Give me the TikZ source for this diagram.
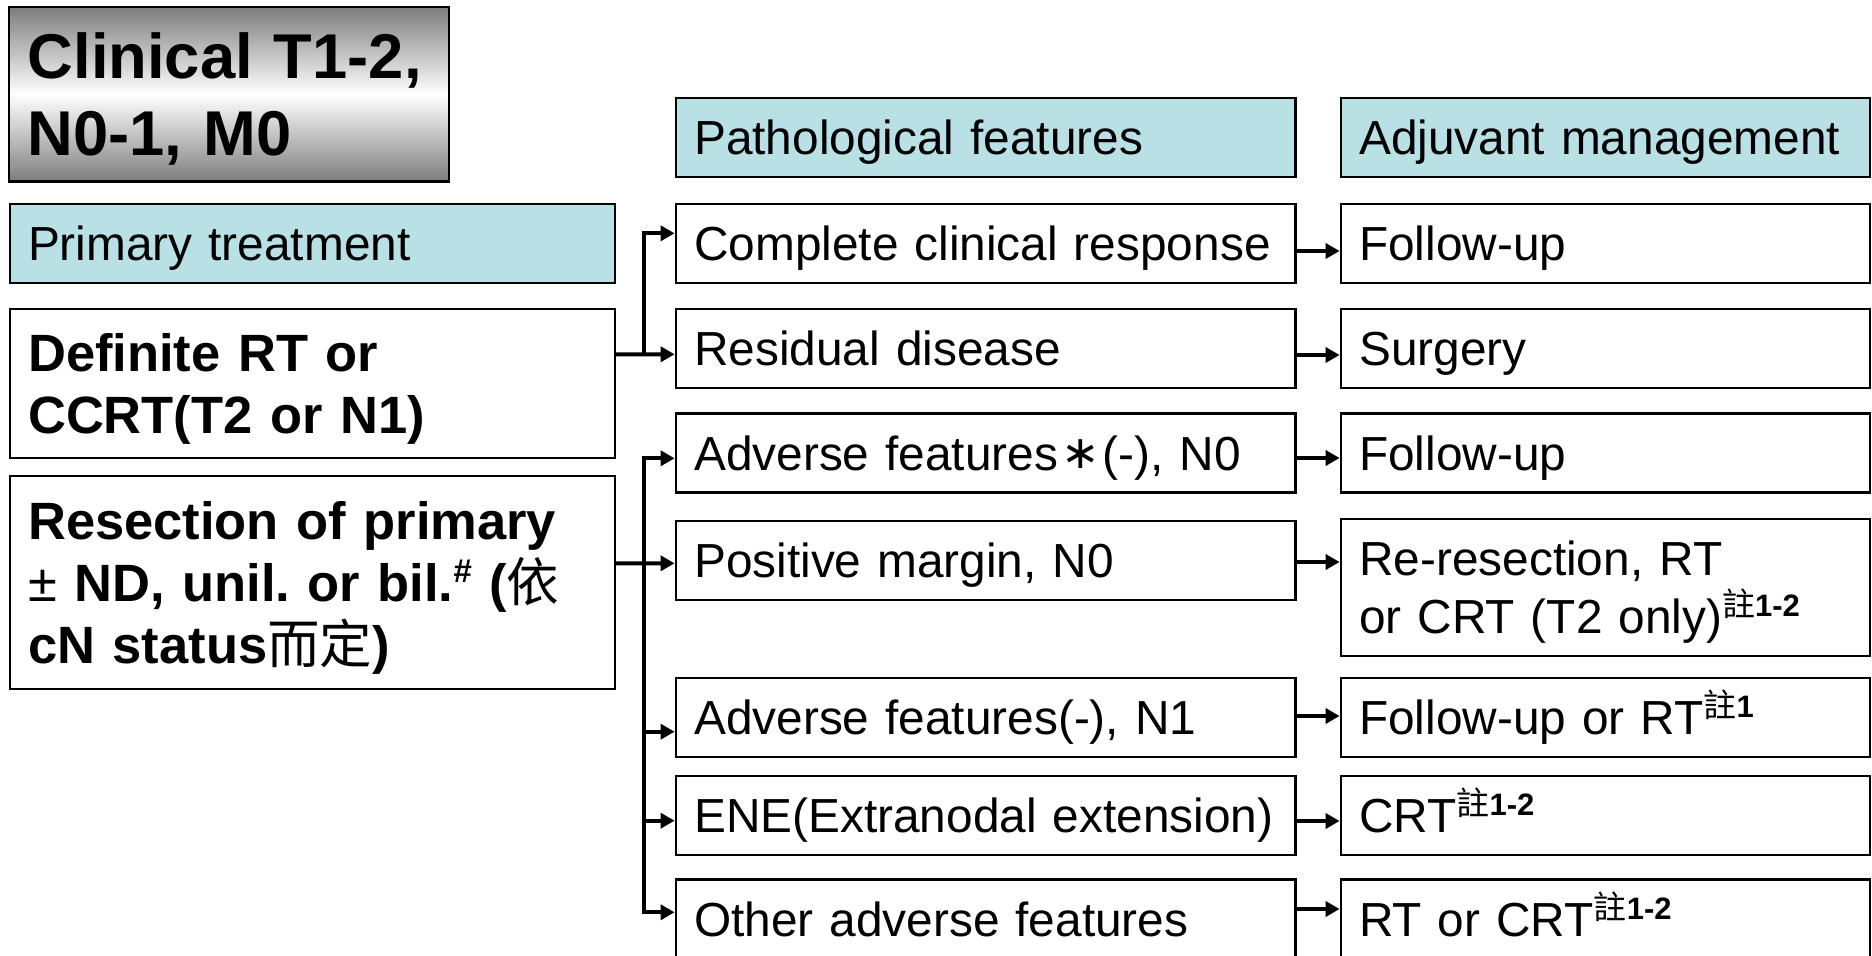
\documentclass[tikz,border=0pt]{standalone}
\usepackage{fontspec}
\setmainfont{Liberation Sans}
\newfontfamily\cjk{Noto Sans CJK TC}
\newfontfamily\djv{DejaVu Sans}
\usetikzlibrary{arrows.meta}
\definecolor{hdr}{RGB}{185,224,228}
\definecolor{shadegray}{RGB}{125,125,125}
\newcommand\zhu[1]{\raisebox{17pt}{{\fontsize{33}{33}\selectfont\cjk\mdseries 註}{\fontsize{31}{31}\selectfont\bfseries #1}}}
\newcommand\hashsup{\raisebox{19pt}{\fontsize{33}{33}\selectfont\bfseries\#}}
\newcommand\astmark{\hspace{3pt}\raisebox{2pt}{\fontsize{46}{46}\selectfont\djv\mdseries ∗}\hspace{3pt}}
\frenchspacing
\begin{document}
\begin{tikzpicture}[x=1pt,y=-1pt,
  box/.style={draw=black, line width=2.2pt, inner xsep=18pt, inner ysep=0pt, align=left, anchor=center, fill=white},
  reg/.style={font=\fontsize{47.8}{58.5}\selectfont\frenchspacing, text height=34.2pt, text depth=0pt},
  reg2/.style={font=\fontsize{47.8}{58.5}\selectfont\frenchspacing, text height=34.2pt, text depth=58.5pt},
  pcol/.style={minimum width=619.8pt, text width=582.8pt, minimum height=79pt},
  acol/.style={minimum width=529.3pt, text width=492.3pt, minimum height=79pt},
  lcol/.style={minimum width=605.4pt, text width=568.4pt},
  hdrbox/.style={fill=hdr},
  conn/.style={line width=4pt, draw=black},
  arr/.style={conn, -{Triangle[length=14pt,width=15pt]}}]
\fill[white] (0,0) rectangle (1872,956);
\useasboundingbox (0,0) rectangle (1872,956);

% Title box with gradient
\node[draw=black, line width=2.4pt, top color=shadegray, bottom color=shadegray, middle color=white,
  minimum width=439.5pt, minimum height=174.6pt, text width=402.5pt, align=left,
  inner xsep=18pt, inner ysep=0pt, font=\fontsize{63.3}{77.6}\selectfont\bfseries,
  text height=45.3pt, text depth=77.6pt] (clin) at (229,94.3) {Clinical T1-2,\\N0-1, M0};

% Left column
\node[box, hdrbox, lcol, reg, minimum height=79.4pt] (prim) at (312.3,243.5) {Primary treatment};
\node[box, lcol, minimum height=149.3pt, font=\fontsize{52.5}{62}\selectfont\bfseries\frenchspacing,
  text height=37.6pt, text depth=62pt] (def) at (312.3,383.65) {Definite RT or\\CCRT(T2 or N1)};
\node[box, lcol, minimum height=213.6pt, font=\fontsize{52.5}{62}\selectfont\bfseries\frenchspacing,
  text height=37.6pt, text depth=124pt] (res) at (312.3,582.5)
  {Resection of primary\\{\mdseries ±} ND, unil. or bil.\hashsup{} ({\cjk\mdseries 依}\\cN status{\cjk\mdseries 而定})};

% Headers
\node[box, hdrbox, pcol, reg, minimum height=78.8pt] (hp) at (985.6,137.3) {Pathological features};
\node[box, hdrbox, acol, reg, minimum height=78.8pt] (ha) at (1605.35,137.3) {Adjuvant management};

% Pathological features column
\node[box, pcol, reg] (p1) at (985.6,243.25) {Complete clinical response};
\node[box, pcol, reg] (p2) at (985.6,348.7) {Residual disease};
\node[box, pcol, reg] (p3) at (985.6,452.9) {Adverse features\astmark(-), N0};
\node[box, pcol, reg] (p4) at (985.6,560.15) {Positive margin, N0};
\node[box, pcol, reg] (p5) at (985.6,717.75) {Adverse features(-), N1};
\node[box, pcol, reg] (p6) at (985.6,815.15) {ENE(Extranodal extension)};
\node[box, pcol, reg] (p7) at (985.6,919) {Other adverse features};

% Adjuvant management column
\node[box, acol, reg] (a1) at (1605.35,243.25) {Follow-up};
\node[box, acol, reg] (a2) at (1605.35,348.7) {Surgery};
\node[box, acol, reg] (a3) at (1605.35,452.9) {Follow-up};
\node[box, acol, reg2, minimum height=136.4pt] (a4) at (1605.35,587.5) {Re-resection, RT\\or CRT (T2 only)\zhu{1-2}};
\node[box, acol, reg] (a5) at (1605.35,717.75) {Follow-up or RT\zhu{1}};
\node[box, acol, reg] (a6) at (1605.35,815.15) {CRT\zhu{1-2}};
\node[box, acol, reg] (a7) at (1605.35,919) {RT or CRT\zhu{1-2}};

% Left connectors
\coordinate (j1) at (644.3,354.3);
\coordinate (j2) at (644.3,563.3);
\draw[arr] ([yshift=29.35pt]def.east) -- ([yshift=-5.6pt]p2.west);
\draw[arr] (j1) |- ([yshift=9.95pt]p1.west);
\draw[arr] ([yshift=19.2pt]res.east) -- ([yshift=-3.15pt]p4.west);
\draw[arr] (j2) |- ([yshift=-5.4pt]p3.west);
\draw[arr] (j2) |- ([yshift=-13.95pt]p5.west);
\draw[arr] (j2) |- ([yshift=-5.55pt]p6.west);
\draw[arr] (j2) |- ([yshift=6.7pt]p7.west);

% Right connectors
\draw[arr] ([yshift=-7.75pt]p1.east) -- ([yshift=-7.75pt]a1.west);
\draw[arr] ([yshift=-6.3pt]p2.east) -- ([yshift=-6.3pt]a2.west);
\draw[arr] ([yshift=-5.1pt]p3.east) -- ([yshift=-5.1pt]a3.west);
\draw[arr] ([yshift=-1.85pt]p4.east) -- ([yshift=25.5pt]a4.west);
\draw[arr] ([yshift=1.75pt]p5.east) -- ([yshift=1.75pt]a5.west);
\draw[arr] ([yshift=-5.85pt]p6.east) -- ([yshift=-5.85pt]a6.west);
\draw[arr] ([yshift=10pt]p7.east) -- ([yshift=10pt]a7.west);
\end{tikzpicture}
\end{document}
